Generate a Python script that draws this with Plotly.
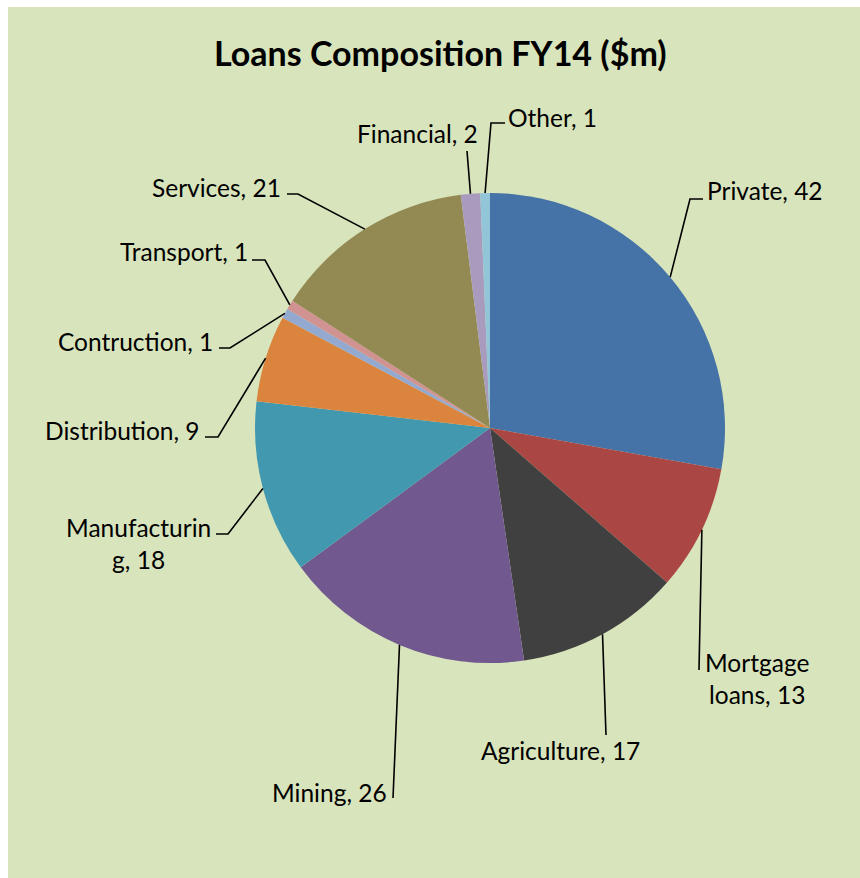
import math
import plotly.graph_objects as go

# Loan book by sector, FY14 ($m), clockwise from 12 o'clock
sectors = ["Private", "Mortgage loans", "Agriculture", "Mining", "Manufacturing",
           "Distribution", "Contruction", "Transport", "Services", "Financial", "Other"]
amounts = [42, 13, 17, 26, 18, 9, 1, 1, 21, 2, 1]
label_text = ["Private, 42", "Mortgage<br>loans, 13", "Agriculture, 17", "Mining, 26",
              "Manufacturin<br>g, 18", "Distribution, 9", "Contruction, 1", "Transport, 1",
              "Services, 21", "Financial, 2", "Other, 1"]
colors = ["#4572A7", "#AA4643", "#404040", "#71588F", "#4198AF", "#DB843D",
          "#93A9CF", "#D19392", "#938953", "#A99BBD", "#92C5D8"]

W, H = 860, 878
CX, CY, R = 490, 428, 235

# Leader-line layout (pixels): elbow point, end of horizontal tick, text anchor
label_layout = [
    dict(elbow=(690, 199), end=(703, 199), text=(705, 190), xa="left", align="left"),
    dict(elbow=(699, 670), end=None, text=(757, 678), xa="center", align="center"),
    dict(elbow=(606, 735), end=None, text=(560, 750), xa="center", align="center"),
    dict(elbow=(393, 798), end=None, text=(389, 792), xa="right", align="right"),
    dict(elbow=(228, 534), end=(216, 534), text=(138, 543), xa="center", align="center"),
    dict(elbow=(218, 437), end=(205, 437), text=(202, 430), xa="right", align="right"),
    dict(elbow=(230, 348), end=(219, 348), text=(215, 341), xa="right", align="right"),
    dict(elbow=(265, 260), end=(252, 260), text=(250, 252), xa="right", align="right"),
    dict(elbow=(298, 194), end=(287, 194), text=(283, 187), xa="right", align="right"),
    dict(elbow=(467, 151), end=None, text=(417, 134), xa="center", align="center"),
    dict(elbow=(491, 123), end=(505, 123), text=(506, 117), xa="left", align="left"),
]


def px(x):
    return x / W


def py(y):
    return 1 - y / H


fig = go.Figure(go.Pie(
    labels=sectors,
    values=amounts,
    sort=False,
    direction="clockwise",
    rotation=0,
    textinfo="none",
    hoverinfo="label+value",
    marker=dict(colors=colors, line=dict(width=0)),
    domain=dict(x=[px(CX - R), px(CX + R)], y=[py(CY + R), py(CY - R)]),
    showlegend=False,
))

shapes = [
    # white frame strips around the green chart area
    dict(type="rect", xref="paper", yref="paper", x0=0, x1=1, y0=1, y1=py(7),
         fillcolor="white", line=dict(width=0), layer="below"),
    dict(type="rect", xref="paper", yref="paper", x0=0, x1=px(8), y0=0, y1=1,
         fillcolor="white", line=dict(width=0), layer="below"),
]
annotations = []

total = sum(amounts)
cum = 0
for val, txt, lay in zip(amounts, label_text, label_layout):
    mid = (cum + val / 2) / total * 2 * math.pi
    cum += val
    ax = CX + R * math.sin(mid)
    ay = CY - R * math.cos(mid)
    pts = [(ax, ay), lay["elbow"]]
    if lay["end"] is not None:
        pts.append(lay["end"])
    path = "M " + " L ".join(f"{px(x):.5f},{py(y):.5f}" for x, y in pts)
    shapes.append(dict(type="path", xref="paper", yref="paper", path=path,
                       line=dict(color="black", width=1.6)))
    tx, ty = lay["text"]
    annotations.append(dict(
        x=px(tx), y=py(ty), xref="paper", yref="paper", text=txt, showarrow=False,
        xanchor=lay["xa"], yanchor="middle", align=lay["align"],
        font=dict(family="Lato", size=24.5, color="black"),
    ))

annotations.append(dict(
    x=px(440), y=py(52), xref="paper", yref="paper",
    text="<b>Loans Composition FY14 ($m)</b>", showarrow=False,
    xanchor="center", yanchor="middle",
    font=dict(family="Lato", size=34, color="black"),
))

fig.update_layout(
    width=W, height=H,
    margin=dict(l=0, r=0, t=0, b=0),
    paper_bgcolor="#D8E4BC",
    plot_bgcolor="#D8E4BC",
    shapes=shapes,
    annotations=annotations,
)

fig.write_html("out.html")
